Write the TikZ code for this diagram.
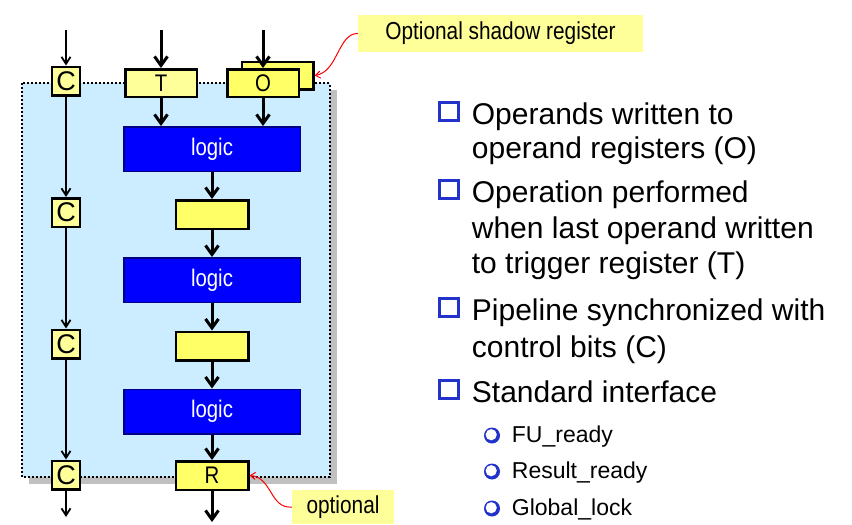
\documentclass[tikz,border=0pt]{standalone}
\usepackage{fontspec}
\setmainfont{Liberation Sans}
\newfontfamily\narrowsf[FakeStretch=0.85]{Liberation Sans}
\usetikzlibrary{arrows.meta}
\definecolor{bgblue}{HTML}{CCECFF}
\definecolor{paleyel}{HTML}{FFFF99}
\definecolor{regyel}{HTML}{FFFF66}
\definecolor{logicblue}{HTML}{0000FF}
\definecolor{logicedge}{HTML}{000080}
\definecolor{bulletblue}{HTML}{2233CC}
\definecolor{shadowgray}{HTML}{C0C0C0}
\begin{document}
\begin{tikzpicture}[x=1pt,y=-1pt,
  reg/.style={draw=black, line width=2.5pt, inner sep=0pt,
    minimum width=71.5pt, minimum height=27.5pt,
    font=\narrowsf\fontsize{24}{24}\selectfont},
  ctl/.style={reg, fill=paleyel, minimum width=28pt, minimum height=28.5pt,
    font=\fontsize{27}{27}\selectfont},
  stage/.style={reg, fill=regyel, minimum width=72.5pt, minimum height=28.5pt},
  logic/.style={draw=logicedge, fill=logicblue, line width=1.5pt, inner sep=0pt,
    minimum width=176.5pt, minimum height=44.5pt, text=white,
    font=\narrowsf\fontsize{24}{24}\selectfont},
  callout/.style={fill=paleyel, inner sep=0pt, minimum width=285pt,
    minimum height=37pt, font=\narrowsf\fontsize{24.5}{24.5}\selectfont},
  flowarrow/.style={line width=3pt, -{Straight Barb[length=9pt,width=13pt]}},
  ctlarrow/.style={line width=1.8pt, -{Straight Barb[length=7pt,width=9pt]}},
  note/.style={red, line width=1pt, -{Straight Barb[length=5pt,width=7pt]}},
  txt/.style={anchor=base west, inner sep=0pt, font=\fontsize{30}{30}\selectfont},
  subtxt/.style={anchor=base west, inner sep=0pt, font=\fontsize{23}{23}\selectfont},
]
\useasboundingbox (0,0) rectangle (852,525);

% functional unit frame with its drop shadow
\fill[shadowgray] (28.5,90) rectangle (336.5,484);
\filldraw[fill=bgblue, draw=black, line width=2pt, dotted] (21.7,83) rectangle (329.5,477);

% control bit registers
\node[ctl] (c1) at (66,81) {C};
\node[ctl] (c2) at (66,212.5) {C};
\node[ctl] (c3) at (66,344) {C};
\node[ctl] (c4) at (66,475) {C};

% input registers
\node[reg, fill=regyel] (os) at (277.5,75.5) {};
\node[reg, fill=paleyel] (t) at (161,83) {T};
\node[reg, fill=regyel] (o) at (263,83) {O};

% pipeline
\node[logic] (l1) at (212,149) {logic};
\node[stage] (s1) at (212,214.5) {};
\node[logic] (l2) at (212,280) {logic};
\node[stage] (s2) at (212,346) {};
\node[logic] (l3) at (212,411.5) {logic};
\node[stage] (r) at (212,475.5) {R};

% free ends of the connectors
\coordinate (cin) at (66,30);
\coordinate (tin) at (161,30);
\coordinate (oin) at (263,30);
\coordinate (cout) at (66,517);
\coordinate (rout) at (212,522);

% control bits
\draw[ctlarrow] (cin) -- (c1);
\draw[ctlarrow] (c1) -- (c2);
\draw[ctlarrow] (c2) -- (c3);
\draw[ctlarrow] (c3) -- (c4);
\draw[ctlarrow] (c4) -- (cout);

% data path
\draw[flowarrow] (tin) -- (t);
\draw[flowarrow] (oin) -- (o);
\draw[flowarrow] (t) -- (t |- l1.north);
\draw[flowarrow] (o) -- (o |- l1.north);
\draw[flowarrow] (l1) -- (s1);
\draw[flowarrow] (s1) -- (l2);
\draw[flowarrow] (l2) -- (s2);
\draw[flowarrow] (s2) -- (l3);
\draw[flowarrow] (l3) -- (r);
\draw[flowarrow] (r) -- (rout);

% annotations
\node[callout] (shnote) at (500.5,33.5) {Optional shadow register};
\node[callout, minimum width=102pt, minimum height=34pt] (optnote) at (343,507) {optional};
\draw[note] (shnote.west) .. controls (338,33) and (338,72) .. (os.east);
\draw[note] (optnote.west) .. controls (270,509) and (272,477) .. (r.east);

% bullet list
\foreach \b in {124,202,320,402}{
  \fill[bulletblue] (438,\b-22.6) rectangle (460,\b-1.6);
  \fill[white] (440.5,\b-20.1) rectangle (456.5,\b-5.1);
}
\foreach \b in {442,478,515}{
  \fill[bulletblue] (492,\b-6.5) circle [radius=8pt];
  \fill[white] (491.2,\b-7.3) circle [radius=5.6pt];
}
\node[txt] (i1a) at (471.7,124) {Operands written to};
\node[txt] (i1b) at (471.7,158.5) {operand registers (O)};
\node[txt] (i2a) at (471.7,202) {Operation performed};
\node[txt] (i2b) at (471.7,238) {when last operand written};
\node[txt] (i2c) at (471.7,273.5) {to trigger register (T)};
\node[txt] (i3a) at (471.7,320) {Pipeline synchronized with};
\node[txt] (i3b) at (471.7,357.5) {control bits (C)};
\node[txt] (i4) at (471.7,402) {Standard interface};
\node[subtxt] (j1) at (511.7,442) {FU\_ready};
\node[subtxt] (j2) at (511.7,478) {Result\_ready};
\node[subtxt] (j3) at (511.7,515) {Global\_lock};
\end{tikzpicture}
\end{document}
